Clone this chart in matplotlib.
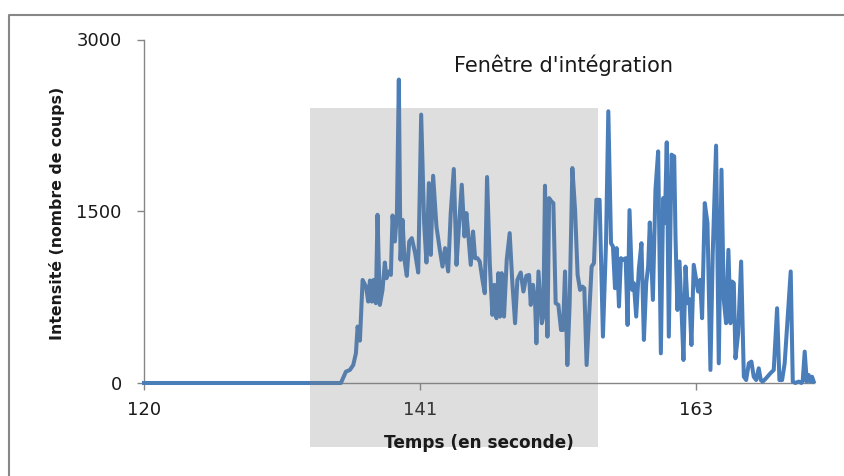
import matplotlib.pyplot as plt
from matplotlib.patches import Rectangle
from matplotlib.lines import Line2D

# temps (s) et intensité (nombre de coups)
temps = [120.0, 135.33, 135.72, 136.03, 136.29, 136.50, 136.63, 136.81, 137.02, 137.28,
         137.46, 137.59, 137.74, 137.87, 138.05, 138.18, 138.36, 138.57, 138.75, 138.88,
         139.04, 139.22, 139.35, 139.53, 139.69, 139.84, 139.97, 140.13, 140.28, 140.46,
         140.65, 140.85, 141.11, 141.35, 141.58, 141.81, 141.99, 142.18,
         142.33, 142.51, 142.77, 143.03, 143.24, 143.44, 143.68, 143.88, 144.12, 144.33,
         144.53, 144.74, 144.95, 145.10, 145.26, 145.44, 145.62, 145.78, 145.96, 146.14,
         146.35, 146.53, 146.71, 146.92, 147.12, 147.28, 147.44, 147.59, 147.72, 147.85,
         148.03, 148.24, 148.47, 148.68, 148.89, 149.07, 149.33, 149.54, 149.77, 149.98,
         150.11, 150.29, 150.45, 150.55, 150.71, 150.97, 151.09, 151.22, 151.41, 151.54,
         151.72, 151.87, 152.05, 152.26, 152.47, 152.62, 152.78, 152.96, 153.14, 153.35,
         153.56, 153.76, 153.95, 154.13, 154.28, 154.46, 154.65, 154.85, 155.03, 155.22,
         155.47, 155.73, 155.97, 156.15, 156.36, 156.51, 156.67, 156.80, 156.98, 157.13,
         157.32, 157.50, 157.65, 157.80,
         158.01, 158.14, 158.32, 158.53, 158.73, 158.92, 159.10, 159.25, 159.38, 159.62,
         159.82, 160.03, 160.24, 160.42, 160.55, 160.70, 160.86, 161.07, 161.28, 161.38,
         161.53, 161.69, 161.85, 162.00, 162.16, 162.31, 162.47, 162.62, 162.80, 162.99,
         163.14, 163.30, 163.45, 163.66, 163.87, 164.10, 164.28, 164.54, 164.75, 164.96,
         165.14, 165.32, 165.50,
         165.66, 165.79, 165.92, 166.05, 166.26, 166.49, 166.70, 166.88, 167.09, 167.29,
         167.47, 167.66, 167.86, 168.02, 168.17, 168.43, 168.77, 169.03, 169.29, 169.47,
         169.68, 169.88, 170.14, 170.35, 170.51, 170.71, 170.97, 171.18, 171.28, 171.44,
         171.60, 171.75, 171.88, 172.01, 172.14]
intensite = [0, 0, 99, 114, 157, 260, 493, 370, 900, 842,
             711, 895, 711, 900, 697, 1469, 682, 813, 1052, 915,
             974, 944, 1463, 1236, 1469, 2650, 1076, 1425, 1076, 936,
             1236, 1265, 1134, 965, 2344, 1396, 1052, 1746,
             1119, 1810, 1367, 1163, 1017, 1178, 974, 1484, 1869, 1032,
             1382, 1732, 1280, 1484, 1280, 1032, 1323, 1090, 1090, 1061,
             901, 784, 1799, 1047, 595, 857, 566, 959, 580, 959,
             580, 1076, 1309, 872, 522, 901, 965, 799, 936, 944,
             682, 857, 697, 347, 974, 522, 580, 1723, 405, 1615,
             1586, 1571, 697, 682, 463, 463, 974, 157, 697, 1877,
             1513, 944, 813, 842, 828, 157, 580, 1017, 1047, 1600,
             1600, 405, 1221, 2373, 1221, 1192, 828, 1178, 668, 1090,
             1076, 1090, 507, 1510,
             813, 872, 580, 1003, 1221, 376, 872, 1017, 1402, 726,
             1688, 2023, 259, 1615, 1396, 2102, 405, 1994, 1979, 1280,
             638, 1061, 638, 201, 1017, 697, 732, 332, 1032, 901,
             799, 901, 566, 1571, 1396, 114, 1134, 2073, 172, 1863,
             726, 522, 1163,
             522, 886, 872, 216, 434, 1061, 55, 26, 172, 187,
             55, 26, 128, 26, 12, 41, 85, 114, 653, 26,
             26, 172, 609, 974, 12, 0, 12, 0, 12, 274,
             12, 70, 12, 55, 12]

# fenêtre d'intégration (rectangle gris)
fenetre_debut, fenetre_fin = 132.96, 155.31
fenetre_bas, fenetre_haut = -559, 2404

x_ticks = [120, 141.5, 163]
x_labels = ['120', '141', '163']
y_ticks = [0, 1500, 3000]

plt.rcParams['font.family'] = ['DejaVu Sans']

fig = plt.figure(figsize=(8.45, 4.76), dpi=100)
W, H = 845, 476
ax = fig.add_axes([144 / W, 93 / H, 669.7 / W, 343.5 / H])

ax.plot(temps, intensite, color='#4a7ebb', lw=2.9, solid_joinstyle='round',
        clip_on=False, zorder=3)
ax.add_patch(Rectangle((fenetre_debut, fenetre_bas), fenetre_fin - fenetre_debut,
                       fenetre_haut - fenetre_bas, facecolor='#808080', alpha=0.26,
                       edgecolor='none', clip_on=False, zorder=4))

ax.set_xlim(120, 172.14)
ax.set_ylim(0, 3000)
ax.set_xticks(x_ticks, x_labels)
ax.set_yticks(y_ticks)
for s in ['top', 'right']:
    ax.spines[s].set_visible(False)
for s in ['left', 'bottom']:
    ax.spines[s].set_color('#868686')
    ax.spines[s].set_linewidth(1.0)
ax.tick_params(direction='out', length=5.3, width=1, color='#868686',
               labelsize=13, labelcolor='#1a1a1a')
ax.tick_params(axis='x', pad=7.5)
ax.tick_params(axis='y', pad=10.8)

fig.text(563 / W, 1 - 72 / H, "Fenêtre d'intégration", fontsize=15,
         ha='center', va='baseline', color='#1a1a1a')
fig.text(479 / W, 1 - 443 / H, 'Temps (en seconde)', fontsize=12.2,
         fontweight='bold', ha='center', va='center', color='#1a1a1a')
fig.text(57 / W, 1 - 213 / H, 'Intensité (nombre de coups)', fontsize=11.3,
         fontweight='bold', rotation=90, ha='center', va='center', color='#1a1a1a')

# cadre du graphique (coupé à droite et en bas)
fig.add_artist(Line2D([9 / W, 9 / W, 1.0], [0.0, 1 - 15 / H, 1 - 15 / H],
                      transform=fig.transFigure, color='#878787', lw=1.5))

fig.savefig('out.png', dpi=100)
